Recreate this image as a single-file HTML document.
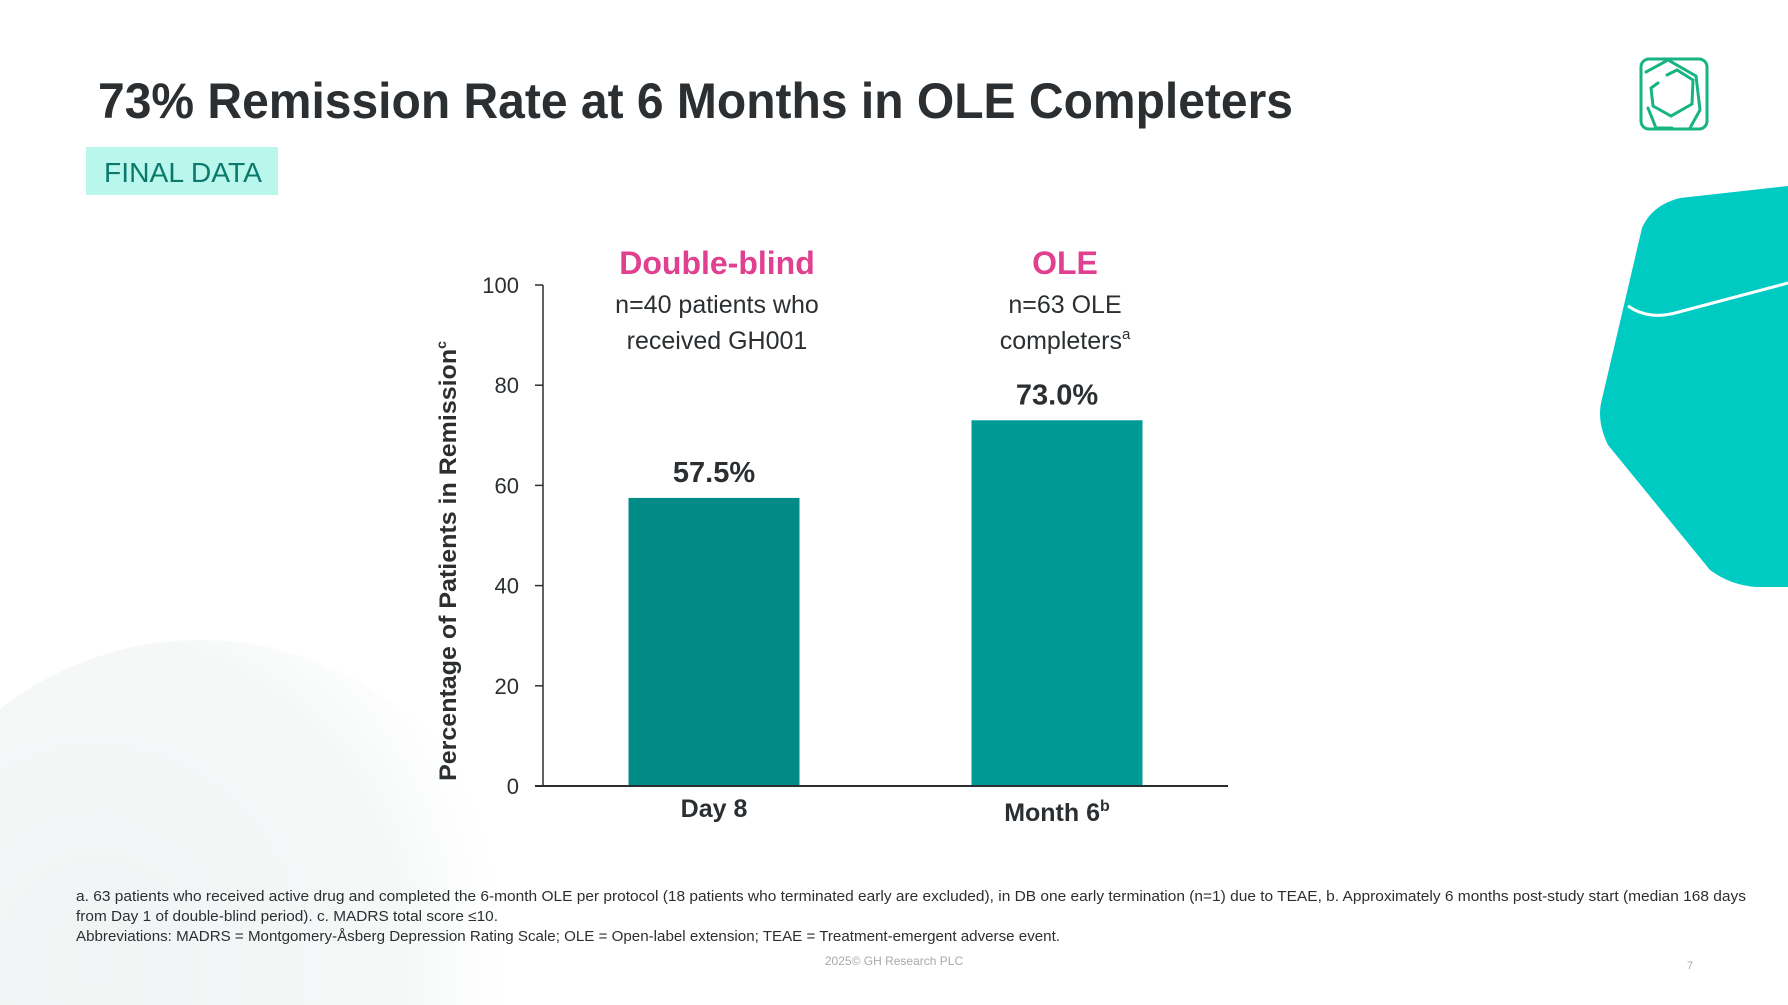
<!DOCTYPE html>
<html><head><meta charset="utf-8"><style>
html,body{margin:0;padding:0;background:#fff;overflow:hidden;width:1788px;height:1005px}
svg{display:block}
text{font-family:"Liberation Sans",sans-serif}
</style></head><body>
<svg id="slide" width="1788" height="1005" viewBox="0 0 1788 1005">
<defs>
<radialGradient id="blob" cx="0.35" cy="0.45" r="0.6">
<stop offset="0" stop-color="#f1f4f4"/><stop offset="0.75" stop-color="#f6f8f8"/><stop offset="1" stop-color="#ffffff"/>
</radialGradient>
</defs>
<ellipse cx="200" cy="1000" rx="340" ry="360" fill="url(#blob)"/>
<path d="M1642,228 Q1652,205 1680,198 L1788,186 L1788,587 L1756,587 Q1730,585 1710,570 L1608,445 Q1596,420 1602,399 Z" fill="#00cbc2"/>
<path d="M1628,306 Q1648,320 1675,313 L1788,283" stroke="#fff" stroke-width="3" fill="none"/>
<g fill="none" stroke="#16b383" stroke-width="3" stroke-linecap="round">
<rect x="1641" y="59" width="66" height="70" rx="8"/>
<path d="M1646,72 L1668,60 L1696,76 L1700,110 L1690,128"/>
<path d="M1648,108 L1656,128 L1672,128"/>
<path d="M1667,75 L1677,70 L1693,80 L1692,104 L1671,116 L1653,106 L1651,88 L1658,83"/>
</g>
<text x="98" y="118" font-size="50" font-weight="bold" fill="#2b2f31" textLength="1195" lengthAdjust="spacingAndGlyphs">73% Remission Rate at 6 Months in OLE Completers</text>
<rect x="86" y="147" width="192" height="48" fill="#b9f6ec"/>
<text x="104" y="182" font-size="28" fill="#0b7a6c" textLength="158" lengthAdjust="spacingAndGlyphs">FINAL DATA</text>
<g id="chart"></g>
<g font-size="14.5" fill="#2b2f31">
<text x="76" y="901" textLength="1670" lengthAdjust="spacingAndGlyphs">a. 63 patients who received active drug and completed the 6-month OLE per protocol (18 patients who terminated early are excluded), in DB one early termination (n=1) due to TEAE, b. Approximately 6 months post-study start (median 168 days</text>
<text x="76" y="921" textLength="422" lengthAdjust="spacingAndGlyphs">from Day 1 of double-blind period). c. MADRS total score ≤10.</text>
<text x="76" y="941" textLength="984" lengthAdjust="spacingAndGlyphs">Abbreviations: MADRS = Montgomery-Åsberg Depression Rating Scale; OLE = Open-label extension; TEAE = Treatment-emergent adverse event.</text>
</g>
<text x="894" y="965" font-size="12" fill="#a8a8a8" text-anchor="middle">2025© GH Research PLC</text>
<text x="1690" y="969" font-size="11" fill="#a8a8a8" text-anchor="middle">7</text>
</svg>
<script>
const categories = ["Day 8", "Month 6"];
const catSup = ["", "b"];
const values = [57.5, 73.0];
const valueLabels = ["57.5%", "73.0%"];
const groupTitles = ["Double-blind", "OLE"];
const groupSub1 = ["n=40 patients who", "n=63 OLE"];
const groupSub2 = ["received GH001", "completers"];
const groupSub2Sup = ["", "a"];
const yTicks = [0, 20, 40, 60, 80, 100];
const barColors = ["#008b87", "#009a94"];

const NS = "http://www.w3.org/2000/svg";
const g = document.getElementById("chart");
const y0 = 786, y100 = 285, xL = 543, xR = 1228;
const yScale = v => y0 - (v / 100) * (y0 - y100);
const centers = [714, 1057];
const barW = 171;
const xCenter = i => centers[0] + i * (centers[1] - centers[0]) / Math.max(1, categories.length - 1);
function mk(tag, attrs, text) {
  const e = document.createElementNS(NS, tag);
  for (const k in attrs) e.setAttribute(k, attrs[k]);
  if (text !== undefined) e.textContent = text;
  g.appendChild(e);
  return e;
}
values.forEach((v, i) => {
  const cx = xCenter(i);
  const r = mk("rect", {x: cx - barW / 2, y: yScale(v), width: barW, height: y0 - yScale(v), fill: barColors[i % barColors.length]});
  
  
  const t = mk("text", {x: cx, y: yScale(v) - 16, "font-size": 29, "font-weight": "bold", fill: "#2b2f31", "text-anchor": "middle"}, valueLabels[i]);
  
  
  const c = mk("text", {x: cx, y: 817 + i * 4, "font-size": 25, "font-weight": "bold", fill: "#2b2f31", "text-anchor": "middle"}, categories[i]);
  if (catSup[i]) { const s = document.createElementNS(NS, "tspan"); s.setAttribute("dy", "-10"); s.setAttribute("font-size", "16"); s.textContent = catSup[i]; c.appendChild(s); }
  
  
  const h = mk("text", {x: cx + 3 + i * 5, y: 274, "font-size": 32, "font-weight": "bold", fill: "#e0408f", "text-anchor": "middle"}, groupTitles[i]);
  
  
  const s1 = mk("text", {x: cx + 3 + i * 5, y: 313, "font-size": 25, fill: "#2b2f31", "text-anchor": "middle"}, groupSub1[i]);
  
  
  const s2 = mk("text", {x: cx + 3 + i * 5, y: 349, "font-size": 25, fill: "#2b2f31", "text-anchor": "middle"}, groupSub2[i]);
  if (groupSub2Sup[i]) { const s = document.createElementNS(NS, "tspan"); s.setAttribute("dy", "-10"); s.setAttribute("font-size", "15"); s.textContent = groupSub2Sup[i]; s2.appendChild(s); }
  
  
});
const ya = mk("line", {x1: xL, y1: y100, x2: xL, y2: y0, stroke: "#2b2f31", "stroke-width": 1.5});


const xa = mk("line", {x1: xL - 8, y1: y0, x2: xR, y2: y0, stroke: "#2b2f31", "stroke-width": 2});


yTicks.forEach(v => {
  const tk = mk("line", {x1: xL - 8, y1: yScale(v), x2: xL, y2: yScale(v), stroke: "#2b2f31", "stroke-width": 1.5});
  
  
  const tl = mk("text", {x: 519, y: yScale(v) + 8, "font-size": 22, fill: "#2b2f31", "text-anchor": "end"}, String(v));
  
  
});
const yt = mk("text", {x: -8, y: 0, "font-size": 24, "font-weight": "bold", fill: "#2b2f31", "text-anchor": "middle", transform: "translate(456,553) rotate(-90)"}, "");
const ym = document.createElementNS(NS, "tspan"); ym.setAttribute("textLength", "432"); ym.setAttribute("lengthAdjust", "spacingAndGlyphs"); ym.textContent = "Percentage of Patients in Remission"; yt.appendChild(ym);
const ys = document.createElementNS(NS, "tspan"); ys.setAttribute("dy", "-10"); ys.setAttribute("font-size", "14"); ys.textContent = "c"; yt.appendChild(ys);


</script>
</body></html>
